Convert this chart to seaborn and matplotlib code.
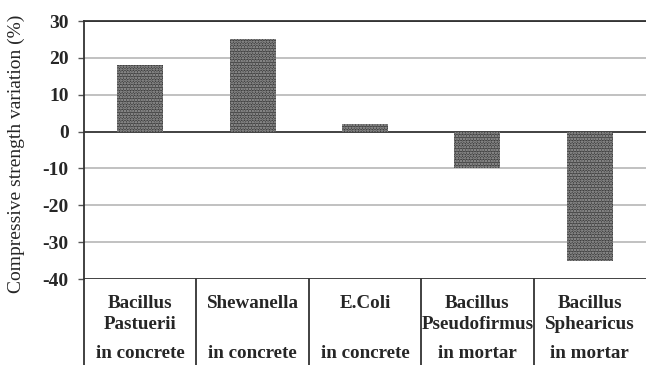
import matplotlib
matplotlib.use("Agg")
import matplotlib.pyplot as plt
import seaborn as sns
import pandas as pd
import numpy as np

names = ["Bacillus\nPastuerii", "Shewanella", "E.Coli", "Bacillus\nPseudofirmus", "Bacillus\nSphearicus"]
media = ["in concrete", "in concrete", "in concrete", "in mortar", "in mortar"]
values = [18, 25, 2, -10, -35]
yticks = [30, 20, 10, 0, -10, -20, -30, -40]

sns.set_theme(style="white")
plt.rcParams['font.family'] = ['Liberation Serif', 'DejaVu Serif']
plt.rcParams['hatch.linewidth'] = 1.2

df = pd.DataFrame({"cat": [f"c{i}" for i in range(len(values))], "val": values})

fig = plt.figure(figsize=(6.46, 3.65), dpi=100)
ax = fig.add_axes([84/646, 1-279/365, 1-84/646, (279-21)/365])

sns.barplot(data=df, x="cat", y="val", ax=ax, width=0.41, color="#3e3e3e",
            saturation=1, linewidth=0.0)
for p in ax.patches:
    p.set_hatch("......")
    p.set_edgecolor("#a8a8a8")

ax.set_ylim(-40, 30)
ax.set_xlim(-0.5, len(values)-0.5)
ax.set_yticks(yticks)
ax.set_yticklabels([str(t) for t in yticks], fontsize=14, fontweight="bold")
for t in yticks:
    if t in (0, 30, -40):
        ax.axhline(t, color="#333333", lw=1.3, zorder=0.5)
    else:
        ax.axhline(t, color="#b0b0b0", lw=1.1, zorder=0.5)
ax.tick_params(axis="y", length=4, width=1, color="#555555", pad=7, left=True)
ax.set_xticks([])
ax.set_xlabel("")
ax.set_ylabel("Compressive strength variation (%)", fontsize=14)
ax.yaxis.label.set_va("center")
ax.yaxis.set_label_coords(-0.121, 0.486)
for s in ["right", "bottom"]:
    ax.spines[s].set_visible(False)
ax.spines["left"].set_color("#333333")
ax.spines["left"].set_linewidth(1.3)
ax.spines["top"].set_color("#333333")
ax.spines["top"].set_linewidth(1.3)

trans = ax.get_xaxis_transform()
for b in np.arange(-0.5, len(values)-0.5, 1.0):
    ax.plot([b, b], [0, -0.35], transform=trans, color="#333333", lw=1.3, clip_on=False)
for i, (n, m) in enumerate(zip(names, media)):
    ax.text(i, -0.062, n, transform=trans, ha="center", va="top", fontsize=13.7,
            fontweight="bold", linespacing=1.3)
    ax.text(i, -0.29, m, transform=trans, ha="center", va="center", fontsize=13.7,
            fontweight="bold")

fig.savefig("out.png", dpi=100)
